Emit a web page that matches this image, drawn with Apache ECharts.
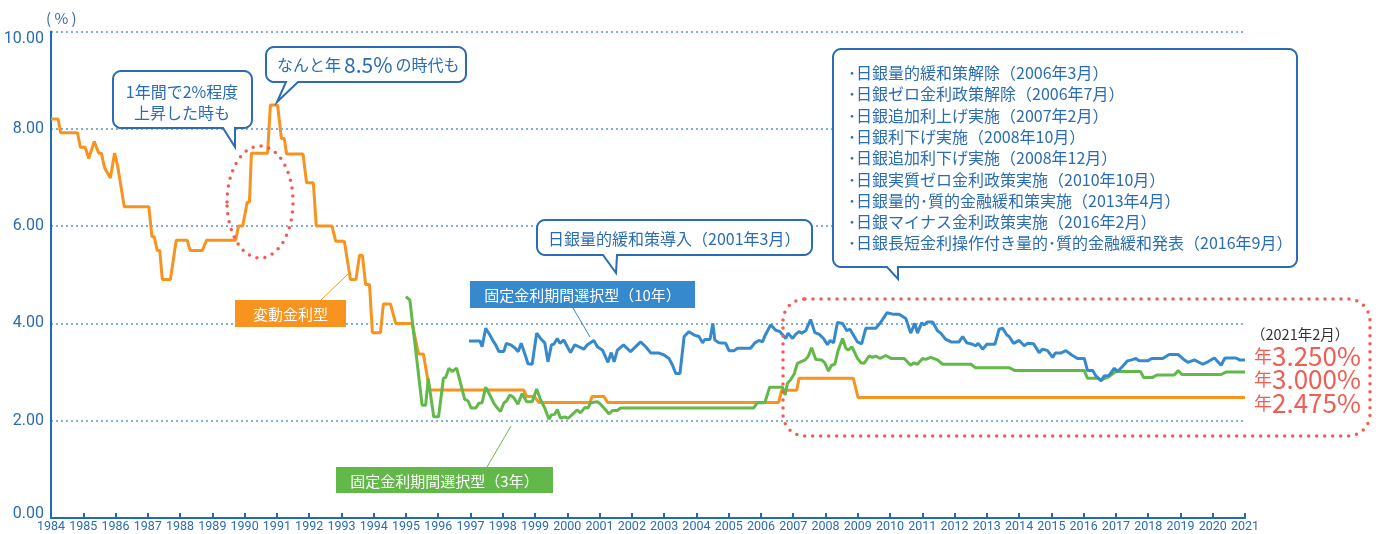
<!DOCTYPE html>
<html>
<head>
<meta charset="utf-8">
<script src="https://cdn.jsdelivr.net/npm/echarts@6/dist/echarts.min.js"></script>
<style>
  html, body { margin: 0; padding: 0; background: #fff; }
  #chart { width: 1382px; height: 534px; }
</style>
</head>
<body>
<div id="chart"></div>
<script>
// 変動金利型 [年, %]
var variableRate = [
  [1984.00,8.20],[1984.22,8.20],[1984.30,7.92],[1984.82,7.92],[1984.91,7.62],[1985.06,7.62],
  [1985.17,7.39],[1985.34,7.74],[1985.48,7.50],[1985.56,7.50],[1985.66,7.20],[1985.72,7.20],
  [1985.84,6.99],[1985.97,7.50],[1986.07,7.22],[1986.12,7.22],[1986.27,6.40],[1987.03,6.40],
  [1987.13,5.78],[1987.20,5.78],[1987.29,5.50],[1987.37,5.50],[1987.45,4.90],[1987.70,4.90],
  [1987.88,5.71],[1988.22,5.71],[1988.31,5.50],[1988.69,5.50],[1988.82,5.71],[1989.72,5.71],
  [1989.81,6.00],[1989.94,6.00],[1990.08,6.49],[1990.15,6.49],[1990.21,7.50],[1990.71,7.50],
  [1990.80,8.49],[1991.02,8.49],[1991.14,7.80],[1991.23,7.80],[1991.30,7.48],[1991.81,7.48],
  [1991.92,6.89],[1992.13,6.89],[1992.22,6.00],[1992.71,6.00],[1992.82,5.69],[1993.09,5.69],
  [1993.28,4.90],[1993.45,4.90],[1993.56,5.40],[1993.65,5.40],[1993.75,4.80],[1993.87,4.80],
  [1993.96,3.81],[1994.21,3.81],[1994.30,4.40],[1994.52,4.40],[1994.68,4.00],[1995.19,4.00],
  [1995.39,3.37],[1995.54,3.37],[1995.73,2.63],[1998.65,2.63],[1998.74,2.50],[1998.97,2.50],
  [1999.12,2.375],[2000.70,2.375],[2000.77,2.50],[2001.13,2.50],[2001.25,2.375],[2006.55,2.375],
  [2006.64,2.625],[2007.11,2.625],[2007.18,2.875],[2008.86,2.875],[2009.01,2.475],[2021.00,2.475]
];

// 固定金利期間選択型(3年)
var fixed3y = [
  [1995.00,4.55],[1995.12,4.48],[1995.50,2.32],[1995.61,2.32],[1995.69,2.87],[1995.86,2.08],
  [1996.01,2.08],[1996.16,2.87],[1996.23,2.89],[1996.33,3.08],[1996.43,3.01],[1996.57,3.08],
  [1996.69,2.77],[1996.82,2.44],[1996.92,2.41],[1997.02,2.26],[1997.16,2.26],[1997.26,2.36],
  [1997.36,2.37],[1997.47,2.69],[1997.60,2.53],[1997.72,2.36],[1997.83,2.26],[1997.93,2.19],
  [1998.03,2.36],[1998.12,2.41],[1998.22,2.53],[1998.33,2.48],[1998.47,2.34],[1998.60,2.56],
  [1998.74,2.39],[1998.91,2.39],[1999.05,2.65],[1999.17,2.43],[1999.30,2.26],[1999.43,2.03],
  [1999.51,2.12],[1999.61,2.13],[1999.69,2.23],[1999.79,2.05],[1999.92,2.08],[2000.03,2.05],
  [2000.19,2.15],[2000.31,2.22],[2000.41,2.16],[2000.54,2.27],[2000.64,2.26],[2000.72,2.37],
  [2000.93,2.39],[2001.03,2.34],[2001.19,2.22],[2001.29,2.14],[2001.40,2.21],[2001.55,2.21],
  [2001.65,2.26],[2005.77,2.26],[2005.89,2.37],[2006.12,2.37],[2006.27,2.69],[2006.67,2.69],
  [2006.75,2.53],[2006.82,2.77],[2006.92,2.84],[2007.03,2.96],[2007.13,3.18],[2007.23,3.21],
  [2007.37,3.25],[2007.46,3.32],[2007.57,3.50],[2007.70,3.26],[2007.88,3.25],[2007.98,3.19],
  [2008.09,3.02],[2008.19,3.14],[2008.29,3.16],[2008.39,3.44],[2008.53,3.69],[2008.63,3.49],
  [2008.70,3.45],[2008.82,3.52],[2008.99,3.28],[2009.10,3.19],[2009.20,3.18],[2009.35,3.33],
  [2009.46,3.30],[2009.56,3.33],[2009.69,3.28],[2009.87,3.34],[2010.03,3.28],[2010.44,3.28],
  [2010.64,3.14],[2010.74,3.19],[2010.85,3.16],[2011.01,3.28],[2011.11,3.26],[2011.26,3.30],
  [2011.47,3.25],[2011.63,3.16],[2012.51,3.16],[2012.64,3.09],[2013.69,3.09],[2013.87,3.03],
  [2016.02,3.03],[2016.12,2.87],[2016.43,2.87],[2016.54,2.84],[2016.74,2.89],[2016.85,2.94],
  [2017.00,3.01],[2017.76,3.01],[2017.86,2.89],[2018.14,2.89],[2018.27,2.94],[2018.81,2.94],
  [2018.93,3.03],[2019.04,2.95],[2020.26,2.95],[2020.41,3.00],[2021.00,3.00]
];

// 固定金利期間選択型(10年)
var fixed10y = [
  [1996.95,3.64],[1997.29,3.64],[1997.36,3.52],[1997.47,3.90],[1997.60,3.76],[1997.72,3.62],
  [1997.78,3.56],[1997.88,3.42],[1998.03,3.42],[1998.11,3.59],[1998.24,3.56],[1998.37,3.50],
  [1998.48,3.42],[1998.57,3.59],[1998.71,3.32],[1998.78,3.17],[1998.91,3.16],[1999.05,3.80],
  [1999.17,3.69],[1999.30,3.60],[1999.40,3.21],[1999.51,3.56],[1999.58,3.57],[1999.69,3.69],
  [1999.77,3.59],[1999.89,3.66],[2000.00,3.52],[2000.10,3.40],[2000.23,3.56],[2000.36,3.52],
  [2000.51,3.47],[2000.62,3.56],[2000.82,3.65],[2000.93,3.52],[2001.09,3.45],[2001.26,3.20],
  [2001.36,3.40],[2001.45,3.21],[2001.55,3.45],[2001.74,3.56],[2001.96,3.42],[2002.27,3.62],
  [2002.43,3.52],[2002.59,3.39],[2002.84,3.39],[2003.00,3.35],[2003.15,3.28],[2003.26,3.14],
  [2003.36,2.97],[2003.49,2.97],[2003.62,3.73],[2003.77,3.83],[2003.93,3.76],[2004.08,3.73],
  [2004.19,3.60],[2004.26,3.67],[2004.42,3.67],[2004.51,4.00],[2004.57,3.66],[2004.70,3.60],
  [2004.91,3.59],[2005.01,3.44],[2005.17,3.44],[2005.27,3.49],[2005.68,3.49],[2005.81,3.60],
  [2005.94,3.65],[2006.05,3.62],[2006.12,3.74],[2006.30,3.97],[2006.46,3.86],[2006.59,3.83],
  [2006.77,3.69],[2006.84,3.80],[2006.98,3.69],[2007.08,3.78],[2007.18,3.83],[2007.26,3.80],
  [2007.39,3.85],[2007.54,4.08],[2007.67,3.81],[2007.80,3.78],[2007.94,3.69],[2008.06,3.56],
  [2008.14,3.65],[2008.25,3.60],[2008.37,4.02],[2008.53,4.00],[2008.66,3.85],[2008.76,3.88],
  [2008.99,3.62],[2009.12,3.58],[2009.25,3.90],[2009.56,3.90],[2009.72,4.03],[2009.91,4.22],
  [2010.08,4.19],[2010.28,4.19],[2010.49,4.10],[2010.64,3.80],[2010.77,4.00],[2010.85,3.80],
  [2010.98,4.01],[2011.06,3.97],[2011.16,4.03],[2011.32,4.03],[2011.47,3.85],[2011.57,3.80],
  [2011.73,3.67],[2011.89,3.62],[2012.14,3.62],[2012.25,3.73],[2012.38,3.60],[2012.56,3.57],
  [2012.66,3.54],[2012.73,3.59],[2012.87,3.47],[2013.00,3.57],[2013.25,3.57],[2013.38,3.88],
  [2013.49,3.90],[2013.62,3.76],[2013.69,3.73],[2013.83,3.59],[2014.00,3.65],[2014.16,3.54],
  [2014.26,3.59],[2014.45,3.58],[2014.62,3.40],[2014.73,3.47],[2014.88,3.44],[2015.04,3.30],
  [2015.12,3.39],[2015.29,3.39],[2015.45,3.44],[2015.63,3.35],[2015.81,3.28],[2016.02,3.28],
  [2016.12,3.03],[2016.28,3.03],[2016.38,2.92],[2016.54,2.82],[2016.64,2.92],[2016.79,2.93],
  [2016.95,3.08],[2017.05,3.01],[2017.21,3.12],[2017.36,3.23],[2017.49,3.25],[2017.62,3.28],
  [2017.72,3.23],[2017.98,3.23],[2018.11,3.28],[2018.45,3.28],[2018.65,3.36],[2018.93,3.36],
  [2019.10,3.26],[2019.23,3.20],[2019.43,3.25],[2019.69,3.16],[2019.85,3.21],[2020.05,3.29],
  [2020.26,3.14],[2020.38,3.29],[2020.72,3.29],[2020.83,3.25],[2021.00,3.25]
];

var yearRange = [1984, 2021];
var rateRange = [0, 10];
var bojEvents = [
  '･日銀量的緩和策解除（2006年3月）',
  '･日銀ゼロ金利政策解除（2006年7月）',
  '･日銀追加利上げ実施（2007年2月）',
  '･日銀利下げ実施（2008年10月）',
  '･日銀追加利下げ実施（2008年12月）',
  '･日銀実質ゼロ金利政策実施（2010年10月）',
  '･日銀量的･質的金融緩和策実施（2013年4月）',
  '･日銀マイナス金利政策実施（2016年2月）',
  '･日銀長短金利操作付き量的･質的金融緩和発表（2016年9月）'
];
var latestRates = ['3.250%', '3.000%', '2.475%'];

var JP = "'Noto Sans CJK JP', 'Noto Sans', sans-serif";
var NUM = "Roboto, 'Noto Sans', sans-serif";
var BLUE = '#3589cc', ORANGE = '#f7931e', GREEN = '#62b94a', RED = '#ef5d53', TXT = '#2a6cb3';

// 吹き出しの枠 (角丸 + しっぽ) を多角形で
function arcPts(cx, cy, r, a0, a1) {
  var pts = [];
  for (var i = 0; i <= 6; i++) {
    var a = a0 + (a1 - a0) * i / 6;
    pts.push([cx + r * Math.cos(a), cy + r * Math.sin(a)]);
  }
  return pts;
}
function bubble(x, y, w, h, r, b1, b2, tx, ty) {
  var R = x + w, B = y + h, P = Math.PI, pts = [];
  pts = pts.concat(arcPts(x + r, y + r, r, P, 1.5 * P));
  pts = pts.concat(arcPts(R - r, y + r, r, 1.5 * P, 2 * P));
  pts = pts.concat(arcPts(R - r, B - r, r, 0, 0.5 * P));
  pts.push([b2, B], [tx, ty], [b1, B]);
  pts = pts.concat(arcPts(x + r, B - r, r, 0.5 * P, P));
  return { type: 'polygon', shape: { points: pts }, style: { fill: '#fff', stroke: '#2a6db5', lineWidth: 2 }, z: 10 };
}
function txt(x, y, text, size, color, align) {
  return { type: 'text', z: 11, style: { text: text, x: x, y: y, fill: color, font: size + 'px ' + JP, align: align || 'left', verticalAlign: 'middle' } };
}
function tag(x, y, w, h, fill, text) {
  return [
    { type: 'rect', shape: { x: x, y: y, width: w, height: h }, style: { fill: fill }, z: 10 },
    txt(x + w / 2, y + h / 2 + 1, text, 15, '#fff', 'center')
  ];
}
function leader(x1, y1, x2, y2, color) {
  return { type: 'line', shape: { x1: x1, y1: y1, x2: x2, y2: y2 }, style: { stroke: color, lineWidth: 1 }, z: 9 };
}
var dotStyle = { fill: null, stroke: RED, lineWidth: 3.5, lineDash: [0, 8], lineCap: 'round' };

var graphics = [
  txt(46, 18, '( % )', 15, '#3a6ab0'),
  { type: 'ellipse', shape: { cx: 260, cy: 202, rx: 33, ry: 56 }, style: dotStyle, z: 8 },
  { type: 'rect', shape: { x: 783, y: 299, width: 587, height: 137, r: 22 }, style: dotStyle, z: 8 },
  bubble(113, 71, 139, 57, 8, 223, 235, 235, 147),
  txt(182, 92, '1年間で2%程度', 16, TXT, 'center'),
  txt(182, 113, '上昇した時も', 16, TXT, 'center'),
  bubble(266, 47, 200, 35, 8, 286, 298, 277, 102),
  {
    type: 'text', z: 11,
    style: {
      x: 277, y: 65, verticalAlign: 'middle',
      text: '{a|なんと年}{b|8.5%}{a|の時代も}',
      rich: {
        a: { fontSize: 16, fontFamily: JP, fill: TXT },
        b: { fontSize: 21, fontFamily: JP, fill: TXT, padding: [0, 3] }
      }
    }
  },
  bubble(537, 220, 275, 35, 8, 603, 617, 616, 273),
  txt(548, 239, '日銀量的緩和策導入（2001年3月）', 16, TXT),
  bubble(833, 49, 464, 218, 8, 887, 898, 898, 279),
  txt(1251, 334, '（2021年2月）', 14.5, '#333')
];
bojEvents.forEach(function (s, i) {
  graphics.push(txt(848, 73 + i * 21.3, s, 16, TXT));
});
latestRates.forEach(function (s, i) {
  graphics.push({
    type: 'text', z: 11,
    style: {
      x: 1254, y: 356 + i * 23.5, verticalAlign: 'middle',
      text: '{a|年}{b|' + s + '}',
      rich: {
        a: { fontSize: 18, fontFamily: JP, fill: RED },
        b: { fontSize: 26, fontFamily: JP, fill: RED }
      }
    }
  });
});
graphics = graphics
  .concat(tag(235, 300, 111, 27, ORANGE, '変動金利型'))
  .concat(tag(470, 281, 225, 27, BLUE, '固定金利期間選択型（10年）'))
  .concat(tag(336, 467, 217, 26, GREEN, '固定金利期間選択型（3年）'))
  .concat([
    leader(321, 300, 348, 274, ORANGE),
    leader(573, 308, 590, 337, BLUE),
    leader(487, 467, 511, 426, GREEN)
  ]);

var chart = echarts.init(document.getElementById('chart'));
chart.setOption({
  animation: false,
  grid: { left: 51, right: 137, top: 31.5, bottom: 16, containLabel: false },
  xAxis: {
    type: 'value', min: yearRange[0], max: yearRange[1], interval: 1,
    axisLine: { lineStyle: { color: '#1f6bb5', width: 2 } },
    axisTick: { inside: true, length: 5, lineStyle: { color: '#1f6bb5', width: 2 } },
    axisLabel: { margin: 2, fontSize: 12.5, fontFamily: NUM, color: TXT, formatter: function (v) { return String(v); } },
    splitLine: { show: false }
  },
  yAxis: {
    type: 'value', min: rateRange[0], max: rateRange[1], interval: 2,
    axisLine: { show: true, lineStyle: { color: '#1f6bb5', width: 2 } },
    axisTick: { show: false },
    axisLabel: {
      margin: 7, fontSize: 16, fontFamily: NUM, color: TXT,
      formatter: function (v) {
        if (v === rateRange[1]) return '{t|' + v.toFixed(2) + '}';
        if (v === rateRange[0]) return '{b|' + v.toFixed(2) + '}';
        return v.toFixed(2);
      },
      rich: {
        t: { fontSize: 16, fontFamily: NUM, color: TXT, padding: [14, 0, 0, 0] },
        b: { fontSize: 16, fontFamily: NUM, color: TXT, padding: [0, 0, 8, 0] }
      }
    },
    splitLine: { lineStyle: { color: '#5b93d3', width: 1.5, type: [2, 3] } }
  },
  series: [
    { name: '変動金利型', type: 'line', data: variableRate, showSymbol: false, lineStyle: { color: ORANGE, width: 3 }, itemStyle: { color: ORANGE } },
    { name: '固定金利期間選択型(3年)', type: 'line', data: fixed3y, showSymbol: false, lineStyle: { color: GREEN, width: 3 }, itemStyle: { color: GREEN } },
    { name: '固定金利期間選択型(10年)', type: 'line', data: fixed10y, showSymbol: false, lineStyle: { color: BLUE, width: 3 }, itemStyle: { color: BLUE } }
  ],
  graphic: graphics
});
</script>
</body>
</html>
